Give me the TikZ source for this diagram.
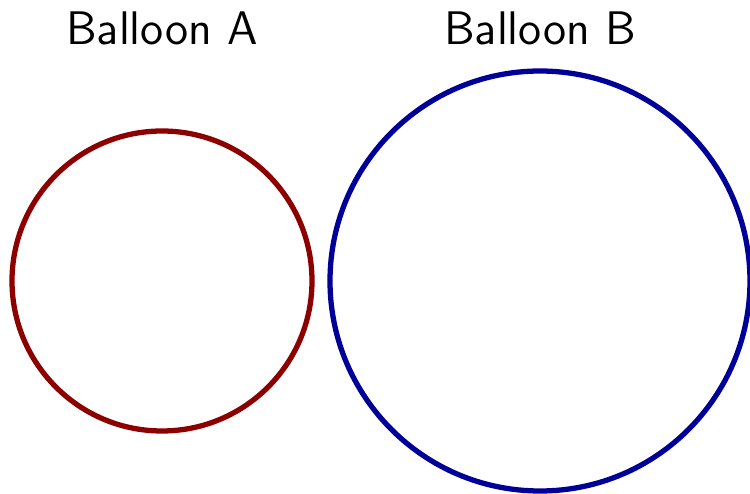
\documentclass[tikz,border=0pt]{standalone}
\usepackage{xcolor}
\usepackage{tikz}

\begin{document}
\begin{tikzpicture}[
  font=\sffamily\fontsize{13.4}{16}\selectfont,
  balloon/.style={line width=1.5pt},
  lbl/.style={anchor=center}
]
\useasboundingbox (0,0) rectangle (7.5,-4.94);
\node[balloon, draw=red!55!black, circle, minimum size=3cm, inner sep=0pt] (ballA) at (1.62,-2.81) {};
\node[balloon, draw=blue!60!black, circle, minimum size=4.2cm, inner sep=0pt] (ballB) at (5.40,-2.81) {};
\node[lbl] (labA) at (1.62,-0.28) {Balloon A};
\node[lbl] (labB) at (5.40,-0.28) {Balloon B};
\end{tikzpicture}
\end{document}
